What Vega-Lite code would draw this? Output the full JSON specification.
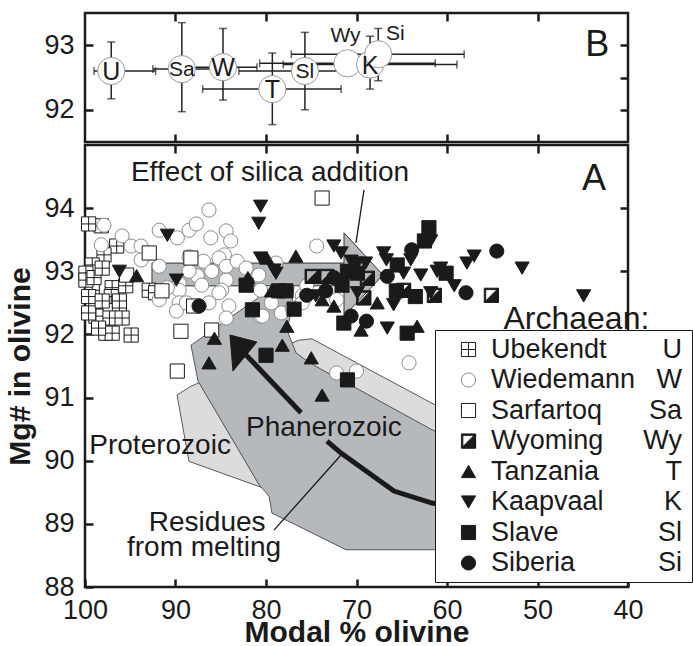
{
  "$schema": "https://vega.github.io/schema/vega-lite/v6.json",
  "padding": {"left": 4, "top": 10, "right": 0, "bottom": 0},
  "spacing": -7,
  "config": {
    "font": "Liberation Sans",
    "view": {"stroke": "#1a1a1a", "strokeWidth": 2.5},
    "axis": {"labelFont": "Liberation Sans", "labelFontSize": 27, "labelColor": "#1a1a1a", "domain": false, "tickColor": "#1a1a1a", "tickWidth": 2.5, "tickSize": -8, "labelFlush": false, "labelOverlap": false, "grid": false, "titleFont": "Liberation Sans", "titleFontSize": 30, "titleFontWeight": "bold", "titleColor": "#1a1a1a"},
    "text": {"font": "Liberation Sans", "color": "#1a1a1a"}
  },
  "datasets": {
    "means": [
      {"abbr": "U", "x": 97.1, "y": 92.6, "xlo": 92.2, "xhi": 99.0, "ylo": 92.17, "yhi": 93.05},
      {"abbr": "Sa", "x": 89.3, "y": 92.63, "xlo": 86.0, "xhi": 92.5, "ylo": 91.97, "yhi": 93.35},
      {"abbr": "W", "x": 84.75, "y": 92.66, "xlo": 81.0, "xhi": 88.5, "ylo": 92.15, "yhi": 93.26},
      {"abbr": "T", "x": 79.3, "y": 92.32, "xlo": 71.7, "xhi": 87.0, "ylo": 91.77, "yhi": 92.88},
      {"abbr": "Sl", "x": 75.7, "y": 92.6, "xlo": 68.5, "xhi": 83.0, "ylo": 92.0, "yhi": 93.2},
      {"abbr": "Wy", "x": 71.0, "y": 92.72, "xlo": 61.3, "xhi": 80.7, "ylo": 92.65, "yhi": 92.8},
      {"abbr": "K", "x": 68.5, "y": 92.7, "xlo": 58.9, "xhi": 78.1, "ylo": 92.32, "yhi": 93.14},
      {"abbr": "Si", "x": 67.6, "y": 92.86, "xlo": 58.1, "xhi": 77.2, "ylo": 92.45, "yhi": 93.26}
    ],
    "poly": [
      {"name": "prot", "i": 0, "x": 89.83, "y": 91.04},
      {"name": "prot", "i": 1, "x": 88.29, "y": 91.18},
      {"name": "prot", "i": 2, "x": 76.35, "y": 91.91},
      {"name": "prot", "i": 3, "x": 74.92, "y": 91.93},
      {"name": "prot", "i": 4, "x": 61.66, "y": 90.91},
      {"name": "prot", "i": 5, "x": 58.12, "y": 90.68},
      {"name": "prot", "i": 6, "x": 58.12, "y": 90.28},
      {"name": "prot", "i": 7, "x": 71.38, "y": 90.28},
      {"name": "prot", "i": 8, "x": 80.55, "y": 89.58},
      {"name": "prot", "i": 9, "x": 88.51, "y": 89.99},
      {"name": "prot", "i": 10, "x": 89.83, "y": 91.04},
      {"name": "phan", "i": 0, "x": 88.29, "y": 91.83},
      {"name": "phan", "i": 1, "x": 79.67, "y": 92.7},
      {"name": "phan", "i": 2, "x": 76.91, "y": 92.75},
      {"name": "phan", "i": 3, "x": 77.24, "y": 92.34},
      {"name": "phan", "i": 4, "x": 77.68, "y": 92.07},
      {"name": "phan", "i": 5, "x": 76.69, "y": 91.71},
      {"name": "phan", "i": 6, "x": 75.47, "y": 91.58},
      {"name": "phan", "i": 7, "x": 73.81, "y": 91.44},
      {"name": "phan", "i": 8, "x": 71.05, "y": 91.23},
      {"name": "phan", "i": 9, "x": 61.66, "y": 90.49},
      {"name": "phan", "i": 10, "x": 58.1, "y": 90.28},
      {"name": "phan", "i": 11, "x": 58.1, "y": 88.59},
      {"name": "phan", "i": 12, "x": 71.16, "y": 88.59},
      {"name": "phan", "i": 13, "x": 79.34, "y": 89.17},
      {"name": "phan", "i": 14, "x": 79.67, "y": 89.44},
      {"name": "phan", "i": 15, "x": 80.77, "y": 89.62},
      {"name": "phan", "i": 16, "x": 87.51, "y": 91.26},
      {"name": "phan", "i": 17, "x": 88.29, "y": 91.83},
      {"name": "silica", "i": 0, "x": 92.6, "y": 93.13},
      {"name": "silica", "i": 1, "x": 71.38, "y": 93.13},
      {"name": "silica", "i": 2, "x": 71.38, "y": 93.61},
      {"name": "silica", "i": 3, "x": 67.07, "y": 92.94},
      {"name": "silica", "i": 4, "x": 71.38, "y": 92.29},
      {"name": "silica", "i": 5, "x": 71.38, "y": 92.77},
      {"name": "silica", "i": 6, "x": 92.6, "y": 92.77},
      {"name": "silica", "i": 7, "x": 92.6, "y": 93.13},
      {"name": "head", "i": 0, "x": 83.98, "y": 91.99},
      {"name": "head", "i": 1, "x": 81.0, "y": 91.88},
      {"name": "head", "i": 2, "x": 83.65, "y": 91.42},
      {"name": "head", "i": 3, "x": 83.98, "y": 91.99}
    ],
    "lines": [
      {"kind": "melt", "seg": 1, "i": 0, "x": 82.43, "y": 91.71},
      {"kind": "melt", "seg": 1, "i": 1, "x": 76.13, "y": 90.76},
      {"kind": "melt", "seg": 2, "i": 0, "x": 73.26, "y": 90.31},
      {"kind": "melt", "seg": 2, "i": 1, "x": 71.71, "y": 90.12},
      {"kind": "melt", "seg": 2, "i": 2, "x": 65.86, "y": 89.52},
      {"kind": "melt", "seg": 2, "i": 3, "x": 61.66, "y": 89.33},
      {"kind": "melt", "seg": 2, "i": 4, "x": 58.12, "y": 89.25},
      {"kind": "ptr", "seg": 3, "i": 0, "x": 69.17, "y": 94.29},
      {"kind": "ptr", "seg": 3, "i": 1, "x": 70.06, "y": 93.45},
      {"kind": "ptr", "seg": 4, "i": 0, "x": 79.12, "y": 88.9},
      {"kind": "ptr", "seg": 4, "i": 1, "x": 71.71, "y": 90.09}
    ],
    "ann": [
      {"kind": "norm", "text": "Effect of silica addition", "x": 79.56, "y": 94.56},
      {"kind": "big", "text": "A", "x": 43.76, "y": 94.46},
      {"kind": "norm", "text": "Phanerozoic", "x": 73.6, "y": 90.52},
      {"kind": "norm", "text": "Proterozoic", "x": 91.7, "y": 90.23},
      {"kind": "norm", "text": "Residues", "x": 86.5, "y": 89.02},
      {"kind": "norm", "text": "from melting", "x": 86.85, "y": 88.62},
      {"kind": "head", "text": "Archaean:", "x": 45.7, "y": 92.24}
    ],
    "pts": [
      {"site": "Ubekendt", "abbr": "U", "x": 98.2, "y": 93.72},
      {"site": "Ubekendt", "abbr": "U", "x": 99.6, "y": 93.75},
      {"site": "Ubekendt", "abbr": "U", "x": 96.5, "y": 93.4},
      {"site": "Ubekendt", "abbr": "U", "x": 97.9, "y": 93.26},
      {"site": "Ubekendt", "abbr": "U", "x": 99.2, "y": 93.1},
      {"site": "Ubekendt", "abbr": "U", "x": 99.9, "y": 92.97},
      {"site": "Ubekendt", "abbr": "U", "x": 99.2, "y": 92.7},
      {"site": "Ubekendt", "abbr": "U", "x": 97.0, "y": 92.74},
      {"site": "Ubekendt", "abbr": "U", "x": 95.5, "y": 92.77},
      {"site": "Ubekendt", "abbr": "U", "x": 92.9, "y": 92.7},
      {"site": "Ubekendt", "abbr": "U", "x": 92.2, "y": 92.66},
      {"site": "Ubekendt", "abbr": "U", "x": 97.1, "y": 92.6},
      {"site": "Ubekendt", "abbr": "U", "x": 98.8, "y": 92.42},
      {"site": "Ubekendt", "abbr": "U", "x": 96.2, "y": 92.34},
      {"site": "Ubekendt", "abbr": "U", "x": 97.3, "y": 92.26},
      {"site": "Ubekendt", "abbr": "U", "x": 95.9, "y": 92.26},
      {"site": "Ubekendt", "abbr": "U", "x": 98.8, "y": 92.29},
      {"site": "Ubekendt", "abbr": "U", "x": 97.7, "y": 92.02},
      {"site": "Ubekendt", "abbr": "U", "x": 97.0, "y": 92.02},
      {"site": "Ubekendt", "abbr": "U", "x": 94.9, "y": 91.99},
      {"site": "Ubekendt", "abbr": "U", "x": 98.5, "y": 92.1},
      {"site": "Ubekendt", "abbr": "U", "x": 99.6, "y": 92.6},
      {"site": "Ubekendt", "abbr": "U", "x": 99.9, "y": 92.86},
      {"site": "Ubekendt", "abbr": "U", "x": 99.0, "y": 92.9},
      {"site": "Ubekendt", "abbr": "U", "x": 98.1, "y": 93.05},
      {"site": "Ubekendt", "abbr": "U", "x": 99.6, "y": 92.34},
      {"site": "Ubekendt", "abbr": "U", "x": 98.1, "y": 92.53},
      {"site": "Ubekendt", "abbr": "U", "x": 96.2, "y": 92.53},
      {"site": "Wiedemann", "abbr": "W", "x": 86.3, "y": 93.97},
      {"site": "Wiedemann", "abbr": "W", "x": 91.8, "y": 93.65},
      {"site": "Wiedemann", "abbr": "W", "x": 89.8, "y": 93.53},
      {"site": "Wiedemann", "abbr": "W", "x": 88.5, "y": 93.65},
      {"site": "Wiedemann", "abbr": "W", "x": 87.7, "y": 93.75},
      {"site": "Wiedemann", "abbr": "W", "x": 86.1, "y": 93.53},
      {"site": "Wiedemann", "abbr": "W", "x": 84.4, "y": 93.64},
      {"site": "Wiedemann", "abbr": "W", "x": 83.9, "y": 93.48},
      {"site": "Wiedemann", "abbr": "W", "x": 84.6, "y": 93.26},
      {"site": "Wiedemann", "abbr": "W", "x": 85.2, "y": 93.21},
      {"site": "Wiedemann", "abbr": "W", "x": 86.9, "y": 93.16},
      {"site": "Wiedemann", "abbr": "W", "x": 88.5, "y": 93.23},
      {"site": "Wiedemann", "abbr": "W", "x": 91.8, "y": 93.08},
      {"site": "Wiedemann", "abbr": "W", "x": 93.8, "y": 93.18},
      {"site": "Wiedemann", "abbr": "W", "x": 97.9, "y": 93.73},
      {"site": "Wiedemann", "abbr": "W", "x": 95.9, "y": 93.56},
      {"site": "Wiedemann", "abbr": "W", "x": 94.9, "y": 93.4},
      {"site": "Wiedemann", "abbr": "W", "x": 98.2, "y": 93.42},
      {"site": "Wiedemann", "abbr": "W", "x": 86.0, "y": 93.0},
      {"site": "Wiedemann", "abbr": "W", "x": 87.6, "y": 92.93},
      {"site": "Wiedemann", "abbr": "W", "x": 89.6, "y": 92.81},
      {"site": "Wiedemann", "abbr": "W", "x": 88.5, "y": 93.0},
      {"site": "Wiedemann", "abbr": "W", "x": 84.4, "y": 93.08},
      {"site": "Wiedemann", "abbr": "W", "x": 83.2, "y": 93.16},
      {"site": "Wiedemann", "abbr": "W", "x": 82.2, "y": 93.05},
      {"site": "Wiedemann", "abbr": "W", "x": 80.8, "y": 92.94},
      {"site": "Wiedemann", "abbr": "W", "x": 80.6, "y": 92.7},
      {"site": "Wiedemann", "abbr": "W", "x": 84.4, "y": 92.86},
      {"site": "Wiedemann", "abbr": "W", "x": 84.9, "y": 92.7},
      {"site": "Wiedemann", "abbr": "W", "x": 87.1, "y": 92.78},
      {"site": "Wiedemann", "abbr": "W", "x": 89.6, "y": 92.7},
      {"site": "Wiedemann", "abbr": "W", "x": 89.6, "y": 92.5},
      {"site": "Wiedemann", "abbr": "W", "x": 89.9, "y": 92.37},
      {"site": "Wiedemann", "abbr": "W", "x": 88.8, "y": 92.5},
      {"site": "Wiedemann", "abbr": "W", "x": 84.1, "y": 92.45},
      {"site": "Wiedemann", "abbr": "W", "x": 80.6, "y": 92.29},
      {"site": "Wiedemann", "abbr": "W", "x": 84.4, "y": 92.26},
      {"site": "Wiedemann", "abbr": "W", "x": 86.3, "y": 92.5},
      {"site": "Wiedemann", "abbr": "W", "x": 85.2, "y": 92.66},
      {"site": "Wiedemann", "abbr": "W", "x": 90.9, "y": 92.74},
      {"site": "Wiedemann", "abbr": "W", "x": 91.8, "y": 92.55},
      {"site": "Wiedemann", "abbr": "W", "x": 93.8, "y": 93.4},
      {"site": "Wiedemann", "abbr": "W", "x": 74.4, "y": 93.4},
      {"site": "Wiedemann", "abbr": "W", "x": 78.9, "y": 93.13},
      {"site": "Wiedemann", "abbr": "W", "x": 79.4, "y": 92.5},
      {"site": "Wiedemann", "abbr": "W", "x": 78.3, "y": 92.34},
      {"site": "Wiedemann", "abbr": "W", "x": 77.1, "y": 92.42},
      {"site": "Wiedemann", "abbr": "W", "x": 76.0, "y": 92.61},
      {"site": "Wiedemann", "abbr": "W", "x": 75.5, "y": 92.77},
      {"site": "Wiedemann", "abbr": "W", "x": 76.0, "y": 92.5},
      {"site": "Wiedemann", "abbr": "W", "x": 80.4, "y": 92.29},
      {"site": "Wiedemann", "abbr": "W", "x": 72.2, "y": 92.55},
      {"site": "Wiedemann", "abbr": "W", "x": 64.2, "y": 91.55},
      {"site": "Wiedemann", "abbr": "W", "x": 72.2, "y": 91.39},
      {"site": "Wiedemann", "abbr": "W", "x": 70.0, "y": 91.42},
      {"site": "Sarfartoq", "abbr": "Sa", "x": 92.9, "y": 93.29},
      {"site": "Sarfartoq", "abbr": "Sa", "x": 88.3, "y": 93.21},
      {"site": "Sarfartoq", "abbr": "Sa", "x": 95.4, "y": 92.94},
      {"site": "Sarfartoq", "abbr": "Sa", "x": 89.4, "y": 92.05},
      {"site": "Sarfartoq", "abbr": "Sa", "x": 86.0, "y": 92.07},
      {"site": "Sarfartoq", "abbr": "Sa", "x": 73.8, "y": 94.16},
      {"site": "Sarfartoq", "abbr": "Sa", "x": 89.8, "y": 91.42},
      {"site": "Sarfartoq", "abbr": "Sa", "x": 91.5, "y": 92.69},
      {"site": "Sarfartoq", "abbr": "Sa", "x": 88.0, "y": 92.45},
      {"site": "Wyoming", "abbr": "Wy", "x": 74.9, "y": 92.92},
      {"site": "Wyoming", "abbr": "Wy", "x": 73.3, "y": 92.92},
      {"site": "Wyoming", "abbr": "Wy", "x": 68.8, "y": 92.89},
      {"site": "Wyoming", "abbr": "Wy", "x": 69.2, "y": 92.58},
      {"site": "Wyoming", "abbr": "Wy", "x": 64.8, "y": 92.7},
      {"site": "Wyoming", "abbr": "Wy", "x": 61.4, "y": 92.62},
      {"site": "Wyoming", "abbr": "Wy", "x": 55.1, "y": 92.62},
      {"site": "Tanzania", "abbr": "T", "x": 94.3, "y": 92.93},
      {"site": "Tanzania", "abbr": "T", "x": 76.7, "y": 93.24},
      {"site": "Tanzania", "abbr": "T", "x": 79.9, "y": 93.21},
      {"site": "Tanzania", "abbr": "T", "x": 67.7, "y": 92.5},
      {"site": "Tanzania", "abbr": "T", "x": 69.5, "y": 92.07},
      {"site": "Tanzania", "abbr": "T", "x": 63.3, "y": 92.13},
      {"site": "Tanzania", "abbr": "T", "x": 78.2, "y": 91.83},
      {"site": "Tanzania", "abbr": "T", "x": 77.7, "y": 92.13},
      {"site": "Tanzania", "abbr": "T", "x": 79.4, "y": 92.69},
      {"site": "Tanzania", "abbr": "T", "x": 73.8, "y": 92.55},
      {"site": "Tanzania", "abbr": "T", "x": 85.7, "y": 91.94},
      {"site": "Tanzania", "abbr": "T", "x": 86.3, "y": 91.55},
      {"site": "Tanzania", "abbr": "T", "x": 75.0, "y": 91.63},
      {"site": "Tanzania", "abbr": "T", "x": 73.8, "y": 91.04},
      {"site": "Tanzania", "abbr": "T", "x": 72.5, "y": 92.45},
      {"site": "Tanzania", "abbr": "T", "x": 82.0, "y": 92.9},
      {"site": "Kaapvaal", "abbr": "K", "x": 80.6, "y": 94.03},
      {"site": "Kaapvaal", "abbr": "K", "x": 80.8, "y": 93.76},
      {"site": "Kaapvaal", "abbr": "K", "x": 90.9, "y": 93.57},
      {"site": "Kaapvaal", "abbr": "K", "x": 96.2, "y": 93.0},
      {"site": "Kaapvaal", "abbr": "K", "x": 89.9, "y": 92.86},
      {"site": "Kaapvaal", "abbr": "K", "x": 72.5, "y": 93.4},
      {"site": "Kaapvaal", "abbr": "K", "x": 71.7, "y": 93.29},
      {"site": "Kaapvaal", "abbr": "K", "x": 70.6, "y": 93.16},
      {"site": "Kaapvaal", "abbr": "K", "x": 69.9, "y": 93.13},
      {"site": "Kaapvaal", "abbr": "K", "x": 69.0, "y": 93.13},
      {"site": "Kaapvaal", "abbr": "K", "x": 67.0, "y": 93.29},
      {"site": "Kaapvaal", "abbr": "K", "x": 66.7, "y": 93.18},
      {"site": "Kaapvaal", "abbr": "K", "x": 64.8, "y": 92.97},
      {"site": "Kaapvaal", "abbr": "K", "x": 62.9, "y": 92.94},
      {"site": "Kaapvaal", "abbr": "K", "x": 61.1, "y": 93.0},
      {"site": "Kaapvaal", "abbr": "K", "x": 60.3, "y": 92.97},
      {"site": "Kaapvaal", "abbr": "K", "x": 61.8, "y": 92.66},
      {"site": "Kaapvaal", "abbr": "K", "x": 65.9, "y": 92.47},
      {"site": "Kaapvaal", "abbr": "K", "x": 66.6, "y": 92.1},
      {"site": "Kaapvaal", "abbr": "K", "x": 69.9, "y": 92.66},
      {"site": "Kaapvaal", "abbr": "K", "x": 74.5, "y": 92.61},
      {"site": "Kaapvaal", "abbr": "K", "x": 78.9, "y": 92.97},
      {"site": "Kaapvaal", "abbr": "K", "x": 57.8, "y": 93.13},
      {"site": "Kaapvaal", "abbr": "K", "x": 57.0, "y": 93.24},
      {"site": "Kaapvaal", "abbr": "K", "x": 51.7, "y": 93.05},
      {"site": "Kaapvaal", "abbr": "K", "x": 44.9, "y": 92.61},
      {"site": "Kaapvaal", "abbr": "K", "x": 64.0, "y": 93.18},
      {"site": "Kaapvaal", "abbr": "K", "x": 60.7, "y": 93.05},
      {"site": "Kaapvaal", "abbr": "K", "x": 61.8, "y": 93.48},
      {"site": "Kaapvaal", "abbr": "K", "x": 59.2, "y": 92.77},
      {"site": "Kaapvaal", "abbr": "K", "x": 79.1, "y": 93.02},
      {"site": "Kaapvaal", "abbr": "K", "x": 80.6, "y": 93.21},
      {"site": "Slave", "abbr": "Sl", "x": 82.2, "y": 92.78},
      {"site": "Slave", "abbr": "Sl", "x": 81.5, "y": 92.39},
      {"site": "Slave", "abbr": "Sl", "x": 71.6, "y": 92.78},
      {"site": "Slave", "abbr": "Sl", "x": 69.9, "y": 92.97},
      {"site": "Slave", "abbr": "Sl", "x": 71.4, "y": 92.18},
      {"site": "Slave", "abbr": "Sl", "x": 65.5, "y": 93.1},
      {"site": "Slave", "abbr": "Sl", "x": 65.6, "y": 92.69},
      {"site": "Slave", "abbr": "Sl", "x": 64.4, "y": 92.02},
      {"site": "Slave", "abbr": "Sl", "x": 62.0, "y": 93.69},
      {"site": "Slave", "abbr": "Sl", "x": 62.5, "y": 93.48},
      {"site": "Slave", "abbr": "Sl", "x": 60.1, "y": 92.97},
      {"site": "Slave", "abbr": "Sl", "x": 77.8, "y": 92.69},
      {"site": "Slave", "abbr": "Sl", "x": 78.6, "y": 92.69},
      {"site": "Slave", "abbr": "Sl", "x": 76.9, "y": 92.4},
      {"site": "Slave", "abbr": "Sl", "x": 80.0, "y": 91.67},
      {"site": "Slave", "abbr": "Sl", "x": 71.0, "y": 91.28},
      {"site": "Slave", "abbr": "Sl", "x": 71.0, "y": 93.0},
      {"site": "Slave", "abbr": "Sl", "x": 63.5, "y": 92.6},
      {"site": "Siberia", "abbr": "Si", "x": 87.4, "y": 92.45},
      {"site": "Siberia", "abbr": "Si", "x": 73.4, "y": 92.69},
      {"site": "Siberia", "abbr": "Si", "x": 66.6, "y": 92.92},
      {"site": "Siberia", "abbr": "Si", "x": 63.9, "y": 93.34},
      {"site": "Siberia", "abbr": "Si", "x": 70.6, "y": 92.29},
      {"site": "Siberia", "abbr": "Si", "x": 68.9, "y": 92.21},
      {"site": "Siberia", "abbr": "Si", "x": 54.5, "y": 93.32},
      {"site": "Siberia", "abbr": "Si", "x": 57.9, "y": 92.66},
      {"site": "Siberia", "abbr": "Si", "x": 75.5, "y": 92.62},
      {"site": "Siberia", "abbr": "Si", "x": 72.5, "y": 92.9}
    ]
  },
  "vconcat": [
    {
      "width": 543,
      "height": 129,
      "data": {"name": "means"},
      "encoding": {
        "x": {"field": "x", "type": "quantitative", "scale": {"domain": [40, 100], "reverse": true}, "axis": null},
        "y": {"field": "y", "type": "quantitative", "scale": {"domain": [91.5, 93.5]}, "axis": null}
      },
      "layer": [
        {
          "mark": {"type": "errorbar", "ticks": true, "color": "#222222", "thickness": 1.5, "size": 8},
          "encoding": {
            "x": {"field": "xlo", "type": "quantitative", "scale": {"domain": [40, 100], "reverse": true}, "axis": {"orient": "bottom", "values": [90, 80, 70, 60, 50], "labels": false, "title": null}},
            "x2": {"field": "xhi"},
            "y": {"field": "y", "type": "quantitative", "scale": {"domain": [91.5, 93.5]}, "axis": {"orient": "left", "values": [92, 92.5, 93], "format": "d", "labelExpr": "datum.value % 1 == 0 ? datum.label : ''", "title": null, "labelPadding": 19}}
          }
        },
        {
          "mark": {"type": "errorbar", "ticks": true, "color": "#222222", "thickness": 1.5, "size": 8},
          "encoding": {
            "x": {"field": "x", "type": "quantitative", "scale": {"domain": [40, 100], "reverse": true}, "axis": {"orient": "top", "values": [90, 80, 70, 60, 50], "labels": false, "title": null}},
            "y": {"field": "ylo", "type": "quantitative", "scale": {"domain": [91.5, 93.5]}, "axis": {"orient": "right", "values": [92, 92.5, 93], "labels": false, "title": null}},
            "y2": {"field": "yhi"}
          }
        },
        {
          "mark": {"type": "point", "filled": false, "fill": "white", "stroke": "#999999", "strokeWidth": 1, "size": 740, "opacity": 1}
        },
        {
          "transform": [{"filter": "length(datum.abbr) == 1"}],
          "mark": {"type": "text", "fontSize": 25, "baseline": "middle", "align": "center", "dy": 1},
          "encoding": {"text": {"field": "abbr"}}
        },
        {
          "transform": [{"filter": "datum.abbr == 'Sa' || datum.abbr == 'Sl'"}],
          "mark": {"type": "text", "fontSize": 21, "baseline": "middle", "align": "center", "dy": 1},
          "encoding": {"text": {"field": "abbr"}}
        },
        {
          "transform": [{"filter": "datum.abbr == 'Wy'"}],
          "mark": {"type": "text", "fontSize": 21, "baseline": "middle", "align": "center", "dx": -2, "dy": -27},
          "encoding": {"text": {"field": "abbr"}}
        },
        {
          "transform": [{"filter": "datum.abbr == 'Si'"}],
          "mark": {"type": "text", "fontSize": 21, "baseline": "middle", "align": "center", "dx": 17, "dy": -20},
          "encoding": {"text": {"field": "abbr"}}
        },
        {
          "data": {"values": [{"x": 43.4, "y": 93.0, "t": "B"}]},
          "mark": {"type": "text", "fontSize": 36, "baseline": "middle", "align": "center"},
          "encoding": {"text": {"field": "t"}}
        }
      ],
      "resolve": {"axis": {"x": "independent", "y": "independent"}}
    },
    {
      "width": 543,
      "height": 442,
      "encoding": {
        "x": {"field": "x", "type": "quantitative", "scale": {"domain": [40, 100], "reverse": true}, "axis": null},
        "y": {"field": "y", "type": "quantitative", "scale": {"domain": [88, 95]}, "axis": null}
      },
      "layer": [
        {
          "data": {"name": "poly"},
          "transform": [{"filter": "datum.name == 'prot'"}],
          "mark": {"type": "line", "fill": "#dcdcdc", "stroke": "#333333", "strokeWidth": 0.8},
          "encoding": {
            "x": {"field": "x", "type": "quantitative", "scale": {"domain": [40, 100], "reverse": true}, "axis": {"orient": "top", "values": [90, 80, 70, 60, 50], "labels": false, "title": null}},
            "y": {"field": "y", "type": "quantitative", "scale": {"domain": [88, 95]}, "axis": {"orient": "right", "values": [89, 90, 91, 92, 93, 94], "labels": false, "title": null}},
            "order": {"field": "i", "type": "quantitative"}
          }
        },
        {
          "data": {"name": "poly"},
          "transform": [{"filter": "datum.name == 'phan'"}],
          "mark": {"type": "line", "fill": "#b5b9bc", "stroke": "#333333", "strokeWidth": 0.8},
          "encoding": {"order": {"field": "i", "type": "quantitative"}}
        },
        {
          "data": {"name": "poly"},
          "transform": [{"filter": "datum.name == 'silica'"}],
          "mark": {"type": "line", "fill": "#b5b9bc", "stroke": "#333333", "strokeWidth": 1},
          "encoding": {"order": {"field": "i", "type": "quantitative"}}
        },
        {
          "data": {"name": "lines"},
          "transform": [{"filter": "datum.kind == 'ptr'"}],
          "mark": {"type": "line", "stroke": "#1a1a1a", "strokeWidth": 1.3},
          "encoding": {"detail": {"field": "seg"}, "order": {"field": "i", "type": "quantitative"}}
        },
        {
          "data": {"name": "lines"},
          "transform": [{"filter": "datum.kind == 'melt'"}],
          "mark": {"type": "line", "stroke": "#1a1a1a", "strokeWidth": 5},
          "encoding": {"detail": {"field": "seg"}, "order": {"field": "i", "type": "quantitative"}}
        },
        {
          "data": {"name": "poly"},
          "transform": [{"filter": "datum.name == 'head'"}],
          "mark": {"type": "line", "fill": "#1a1a1a", "stroke": "#1a1a1a", "strokeWidth": 1},
          "encoding": {"order": {"field": "i", "type": "quantitative"}}
        },
        {
          "data": {"name": "pts"},
          "mark": {"type": "point", "size": 200, "strokeWidth": 1, "opacity": 1},
          "encoding": {
            "x": {"field": "x", "type": "quantitative", "scale": {"domain": [40, 100], "reverse": true}, "axis": {"orient": "bottom", "values": [100, 90, 80, 70, 60, 50, 40], "title": "Modal % olivine", "labelPadding": 18, "titlePadding": -6}},
            "y": {"field": "y", "type": "quantitative", "scale": {"domain": [88, 95]}, "axis": {"orient": "left", "values": [88, 89, 90, 91, 92, 93, 94], "title": "Mg# in olivine", "labelPadding": 19, "titlePadding": 8}},
            "shape": {"field": "site", "type": "nominal",
              "scale": {"domain": ["Ubekendt", "Wiedemann", "Sarfartoq", "Wyoming", "Tanzania", "Kaapvaal", "Slave", "Siberia"],
                "range": ["M-1,-1L1,-1L1,1L-1,1Z M0,-1L0,1 M-1,0L1,0", "circle", "square", "M-1,-1L1,-1L1,1L-1,1Z M-0.8,-0.8L-0.8,0.8L0.8,0.8L0.8,-0.8Z M1,-1L1,1L-1,1Z", "triangle-up", "triangle-down", "square", "circle"]},
              "legend": {"title": null, "orient": "none", "legendX": 350, "legendY": 317, "padding": 6, "fillColor": "white", "strokeColor": "#1a1a1a", "symbolOffset": 14, "labelOffset": 9, "labelFont": "Liberation Sans", "labelFontSize": 27, "labelColor": "#1a1a1a", "labelLimit": 400, "symbolSize": 200, "symbolStrokeWidth": 1, "rowPadding": 2.5, "labelExpr": "datum.label + '\u00a0\u00a0\u00a0\u00a0\u00a0\u00a0\u2009\u200b'", "zindex": 0}},
            "fill": {"field": "site", "type": "nominal",
              "scale": {"domain": ["Ubekendt", "Wiedemann", "Sarfartoq", "Wyoming", "Tanzania", "Kaapvaal", "Slave", "Siberia"],
                "range": ["white", "white", "white", "#1a1a1a", "#1a1a1a", "#1a1a1a", "#1a1a1a", "#1a1a1a"]}},
            "stroke": {"field": "site", "type": "nominal",
              "scale": {"domain": ["Ubekendt", "Wiedemann", "Sarfartoq", "Wyoming", "Tanzania", "Kaapvaal", "Slave", "Siberia"],
                "range": ["#1a1a1a", "#8c8c8c", "#1a1a1a", "#1a1a1a", "#1a1a1a", "#1a1a1a", "#1a1a1a", "#1a1a1a"]}},
            "opacity": {"field": "abbr", "type": "nominal",
              "scale": {"domain": ["U", "W", "Sa", "Wy", "T", "K", "Sl", "Si"], "range": [1, 1]},
              "legend": {"title": null, "orient": "none", "legendX": 570, "legendY": 323, "padding": 0, "symbolType": "M0,0", "symbolStrokeWidth": 0, "symbolFillColor": "transparent", "symbolSize": 200, "labelAlign": "right", "labelOffset": 0, "labelFont": "Liberation Sans", "labelFontSize": 27, "labelColor": "#1a1a1a", "rowPadding": 2.5, "zindex": 1}}
          }
        },
        {
          "data": {"name": "ann"},
          "transform": [{"filter": "datum.kind == 'norm'"}],
          "mark": {"type": "text", "fontSize": 28, "baseline": "middle", "align": "center"},
          "encoding": {"text": {"field": "text"}}
        },
        {
          "data": {"name": "ann"},
          "transform": [{"filter": "datum.kind == 'big'"}],
          "mark": {"type": "text", "fontSize": 36, "baseline": "middle", "align": "center"},
          "encoding": {"text": {"field": "text"}}
        },
        {
          "data": {"name": "ann"},
          "transform": [{"filter": "datum.kind == 'head'"}],
          "mark": {"type": "text", "fontSize": 32, "baseline": "middle", "align": "center"},
          "encoding": {"text": {"field": "text"}}
        }
      ],
      "resolve": {"axis": {"x": "independent", "y": "independent"}}
    }
  ]
}
